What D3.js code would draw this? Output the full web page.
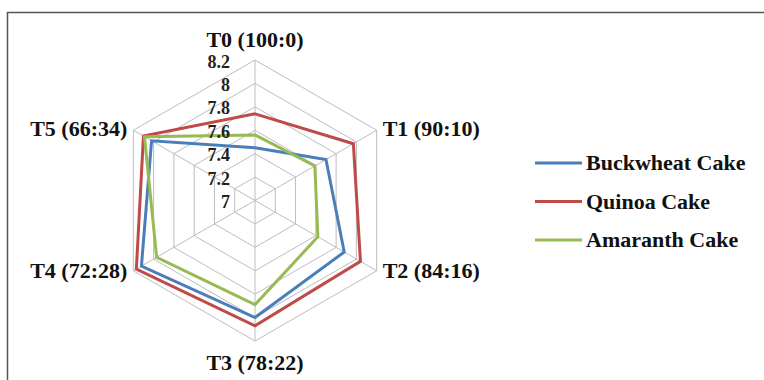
<!DOCTYPE html>
<html><head><meta charset="utf-8">
<script src="https://cdn.jsdelivr.net/npm/d3@7"></script>
<style>body{margin:0;background:#fff}svg{display:block}</style>
</head><body>
<svg id="c" width="764" height="380"></svg>
<script>
const categories = ["T0 (100:0)","T1 (90:10)","T2 (84:16)","T3 (78:22)","T4 (72:28)","T5 (66:34)"];
const buckwheat = [7.45, 7.70, 7.88, 8.00, 8.12, 8.02];
const quinoa    = [7.74, 7.97, 8.04, 8.07, 8.17, 8.10];
const amaranth  = [7.56, 7.59, 7.62, 7.89, 7.97, 8.09];
const tickValues = [7, 7.2, 7.4, 7.6, 7.8, 8, 8.2];
const seriesNames = ["Buckwheat Cake","Quinoa Cake","Amaranth Cake"];
const seriesColors = ["#4A7EBB","#BE4B48","#98B954"];
const series = [buckwheat, quinoa, amaranth];

const svg = d3.select("#c");
const cx = 255, cy = 200.5, R = 140.5;
const r = d3.scaleLinear().domain([7, 8.2]).range([0, R]);
const ang = d3.scaleLinear().domain([0, categories.length]).range([0, 2*Math.PI]);
const pt = (i, v) => [cx + r(v)*Math.sin(ang(i)), cy - r(v)*Math.cos(ang(i))];

// frame
svg.append("path").attr("d","M7.5,380 L7.5,12.5 L764,12.5").attr("fill","none").attr("stroke","#555").attr("stroke-width",1.5);

const g = svg.append("g");
// grid rings
tickValues.slice(1).forEach(t => {
  g.append("path").attr("d", d3.line()(categories.map((c,i)=>pt(i,t))) + "Z")
    .attr("fill","none").attr("stroke","#BDBDBD").attr("stroke-width",1);
});
// spokes
categories.forEach((c,i)=>{
  const p = pt(i, 8.2);
  g.append("line").attr("x1",cx).attr("y1",cy).attr("x2",p[0]).attr("y2",p[1])
    .attr("stroke","#BDBDBD").attr("stroke-width",1);
});
// series
series.forEach((s,k)=>{
  g.append("path").attr("d", d3.line()(s.map((v,i)=>pt(i,v))) + "Z")
    .attr("fill","none").attr("stroke",seriesColors[k]).attr("stroke-width",3).attr("stroke-linejoin","miter");
});
// tick labels
tickValues.forEach(t=>{
  g.append("text").attr("x", cx-25).attr("y", cy - r(t) + 7.5).attr("text-anchor","end")
    .attr("font-family","Liberation Serif").attr("font-weight","bold").attr("font-size",18)
    .attr("fill","#222").text(d3.format("")(t));
});
// category labels
const labelPos = [
  {dx:0, dy:-13, a:"middle"},
  {dx:6, dy:6, a:"start"},
  {dx:6, dy:7, a:"start"},
  {dx:0, dy:29, a:"middle"},
  {dx:-6, dy:7, a:"end"},
  {dx:-6, dy:6, a:"end"}
];
categories.forEach((c,i)=>{
  const p = pt(i, 8.2);
  const lp = labelPos[i];
  g.append("text").attr("x", p[0]+lp.dx).attr("y", p[1]+lp.dy).attr("text-anchor", lp.a)
    .attr("font-family","Liberation Serif").attr("font-weight","bold").attr("font-size",22)
    .attr("fill","#111").text(c);
});
// legend
const lg = svg.append("g");
seriesNames.forEach((n,k)=>{
  const y = 163 + k*38.5;
  lg.append("line").attr("x1",535).attr("x2",582).attr("y1",y).attr("y2",y)
    .attr("stroke",seriesColors[k]).attr("stroke-width",3);
  lg.append("text").attr("x",586).attr("y",y+7)
    .attr("font-family","Liberation Serif").attr("font-weight","bold").attr("font-size",22)
    .attr("fill","#111").text(n);
});
</script>
</body></html>
